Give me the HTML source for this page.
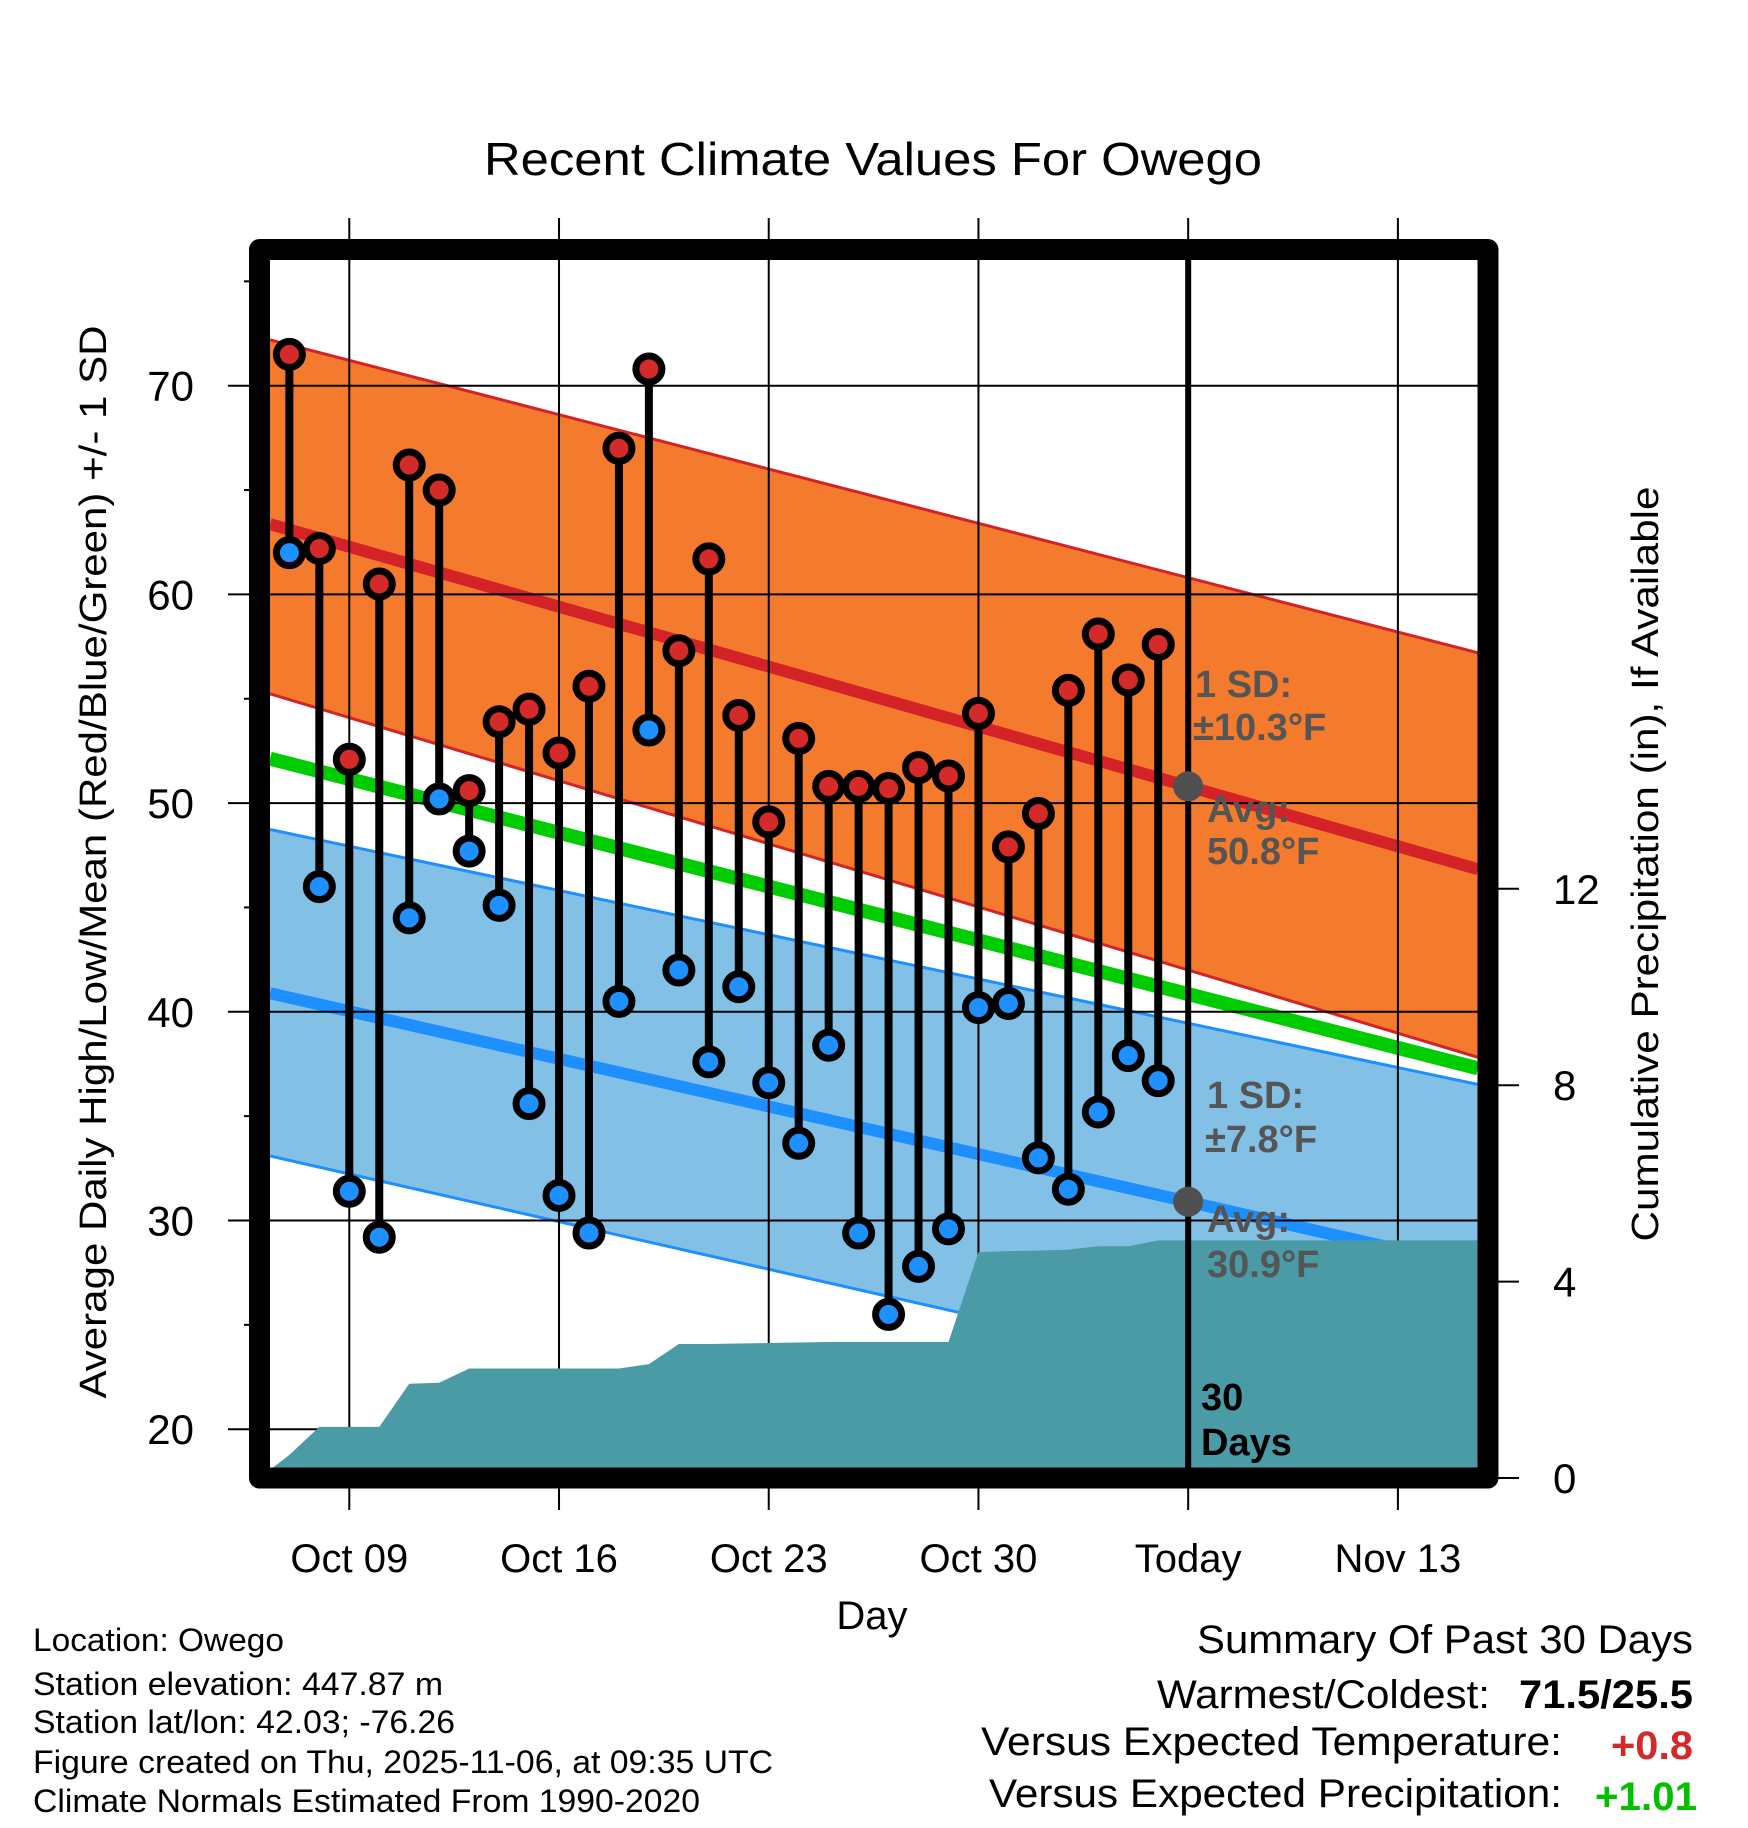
<!DOCTYPE html>
<html><head><meta charset="utf-8"><style>
html,body{margin:0;padding:0;background:#fff;}
svg{display:block;font-family:"Liberation Sans",Arial,sans-serif;}
</style></head><body>
<svg id="chart" width="1748" height="1828" viewBox="0 0 1748 1828" xmlns="http://www.w3.org/2000/svg">
<defs><clipPath id="plotclip"><rect x="270" y="260" width="1208" height="1208"/></clipPath></defs>
<g id="bands" clip-path="url(#plotclip)"></g>
<g id="grid"></g>
<g id="precip" clip-path="url(#plotclip)"></g>
<g id="marks"></g>
<g id="axes"></g>
<text x="873" y="175" font-size="46" text-anchor="middle" textLength="778" lengthAdjust="spacingAndGlyphs">Recent Climate Values For Owego</text>
<text transform="translate(106,862) rotate(-90)" font-size="38" text-anchor="middle" textLength="1073" lengthAdjust="spacingAndGlyphs">Average Daily High/Low/Mean (Red/Blue/Green) +/- 1 SD</text>
<text transform="translate(1658,864) rotate(-90)" font-size="38" text-anchor="middle" textLength="755" lengthAdjust="spacingAndGlyphs">Cumulative Precipitation (in), If Available</text>
<text x="872" y="1629" font-size="40" text-anchor="middle">Day</text>
<g font-size="32">
<text x="33" y="1651" textLength="251" lengthAdjust="spacingAndGlyphs">Location: Owego</text>
<text x="33" y="1695" textLength="410" lengthAdjust="spacingAndGlyphs">Station elevation: 447.87 m</text>
<text x="33" y="1733" textLength="422" lengthAdjust="spacingAndGlyphs">Station lat/lon: 42.03; -76.26</text>
<text x="33" y="1773" textLength="740" lengthAdjust="spacingAndGlyphs">Figure created on Thu, 2025-11-06, at 09:35 UTC</text>
<text x="33" y="1812" textLength="667" lengthAdjust="spacingAndGlyphs">Climate Normals Estimated From 1990-2020</text>
</g>
<g font-size="40">
<text x="1197" y="1653" textLength="496" lengthAdjust="spacingAndGlyphs">Summary Of Past 30 Days</text>
<text x="1157" y="1708" textLength="333" lengthAdjust="spacingAndGlyphs">Warmest/Coldest:</text>
<text x="1519" y="1708" font-weight="bold" textLength="174" lengthAdjust="spacingAndGlyphs">71.5/25.5</text>
<text x="981" y="1755" textLength="581" lengthAdjust="spacingAndGlyphs">Versus Expected Temperature:</text>
<text x="1611" y="1759" font-weight="bold" fill="#d22a2a" textLength="82" lengthAdjust="spacingAndGlyphs">+0.8</text>
<text x="989" y="1807" textLength="573" lengthAdjust="spacingAndGlyphs">Versus Expected Precipitation:</text>
<text x="1595" y="1810" font-weight="bold" fill="#00c000" textLength="102" lengthAdjust="spacingAndGlyphs">+1.01</text>
</g>
<g id="annot" font-size="38" font-weight="bold" fill="#555"></g>
</svg>
<script>
const dayLabels = ["Oct 09","Oct 16","Oct 23","Oct 30","Today","Nov 13"];
const dayTicks = [2, 9, 16, 23, 30, 37];
const highs = [71.5,62.2,52.1,60.5,66.2,65.0,50.6,53.9,54.5,52.4,55.6,67.0,70.8,57.3,61.7,54.2,49.1,53.1,50.8,50.8,50.7,51.7,51.3,54.3,47.9,49.5,55.4,58.1,55.9,57.6];
const lows = [62.0,46.0,31.4,29.2,44.5,50.2,47.7,45.1,35.6,31.2,29.4,40.5,53.5,42.0,37.6,41.2,36.6,33.7,38.4,29.4,25.5,27.8,29.6,40.2,40.4,33.0,31.5,35.2,37.9,36.7];
const precip = [0.47,1.04,1.04,1.04,1.92,1.94,2.23,2.23,2.23,2.23,2.23,2.23,2.32,2.73,2.73,2.74,2.75,2.76,2.77,2.77,2.77,2.77,2.77,4.6,4.62,4.63,4.65,4.72,4.72,4.84];
const tempTicks = [20,30,40,50,60,70];
const precipTicks = [0,4,8,12];
// normals at "today" and their daily slopes (decline per day)
const normalHighToday = 50.8, normalLowToday = 30.9;
const highUpperToday = 60.8, highLowerToday = 42.0;
const lowUpperToday = 39.45, lowLowerToday = 23.1;
const highSlope = 0.41, lowSlope = 0.326;
const highUpperSlope = 0.372, highLowerSlope = 0.432;
const lowUpperSlope = 0.303, lowLowerSlope = 0.326;
const todayIndex = 30;

const NS = "http://www.w3.org/2000/svg";
const X = d => 349.3 + (d - 2) * 29.96;
const Y = t => 385.7 + (70 - t) * 20.87;
const P = p => 1478 - p * 49.1;
function el(tag, attrs, parent){const e=document.createElementNS(NS,tag);for(const k in attrs)e.setAttribute(k,attrs[k]);parent.appendChild(e);return e;}
const dL = (270-349.3)/29.96+2, dR = (1478-349.3)/29.96+2;
const lin = (v,s) => d => v + (todayIndex-d)*s;
const nHigh = lin(normalHighToday, highSlope);
const nLow = lin(normalLowToday, lowSlope);
const nMean = d => (nHigh(d)+nLow(d))/2;
const bands = document.getElementById('bands');
function band(f1,f2,fill,stroke,name){
  const pts=[[X(dL),Y(f1(dL))],[X(dR),Y(f1(dR))],[X(dR),Y(f2(dR))],[X(dL),Y(f2(dL))]];
  const e=el('polygon',{points:pts.map(p=>p.join(',')).join(' '),fill:fill},bands);
  
  
  [f1,f2].forEach(f=>{const l=el('line',{x1:X(dL),y1:Y(f(dL)),x2:X(dR),y2:Y(f(dR)),stroke:stroke,'stroke-width':3},bands);
    
    });
}
band(lin(highUpperToday,highUpperSlope),lin(highLowerToday,highLowerSlope),'#f47a2e','#d42328','high-sd-band');
band(lin(lowUpperToday,lowUpperSlope),lin(lowLowerToday,lowLowerSlope),'#82c0e6','#1e8fff','low-sd-band');
function nline(f,color,w,name){const l=el('line',{x1:X(dL),y1:Y(f(dL)),x2:X(dR),y2:Y(f(dR)),stroke:color,'stroke-width':w},bands);
  
  }
nline(nMean,'#00cc00',14,'normal-mean-line');
nline(nHigh,'#d42328',12,'normal-high-line');
nline(nLow,'#1e8fff',12,'normal-low-line');

const grid = document.getElementById('grid');
dayTicks.forEach((d,i)=>{const l=el('line',{x1:X(d),y1:218,x2:X(d),y2:1510,stroke:'#000','stroke-width':2},grid);
  
  });
tempTicks.forEach(t=>{const l=el('line',{x1:228,y1:Y(t),x2:1478,y2:Y(t),stroke:'#000','stroke-width':2},grid);
  
  });
[25,35,45,55,65,75].forEach(t=>{const l=el('line',{x1:244,y1:Y(t),x2:252,y2:Y(t),stroke:'#000','stroke-width':2},grid);
  
  });

const pg = document.getElementById('precip');
let pts=[[X(-1),P(0)]];
precip.forEach((v,i)=>pts.push([X(i),P(v)]));
pts.push([X(dR),P(precip[precip.length-1])],[X(dR),1500],[X(-1),1500]);
const area=el('polygon',{points:pts.map(p=>p.join(',')).join(' '),fill:'#4a9ba6'},pg);



const marks=document.getElementById('marks');
highs.forEach((h,i)=>{
  const lo=lows[i], x=X(i);
  const s=el('line',{x1:x,y1:Y(h),x2:x,y2:Y(lo),stroke:'#000','stroke-width':8},marks);
  
  
});
highs.forEach((h,i)=>{
  const x=X(i);
  [[h,'#d42a2a','high-point'],[lows[i],'#1e90ff','low-point']].forEach(([v,c,n])=>{
    const o=el('circle',{cx:x,cy:Y(v),r:13,fill:c,stroke:'#000','stroke-width':7},marks);
    
    
  });
});
const tl=el('line',{x1:X(todayIndex),y1:255,x2:X(todayIndex),y2:1470,stroke:'#000','stroke-width':6},marks);


[nHigh(todayIndex),nLow(todayIndex)].forEach(v=>{const c=el('circle',{cx:X(todayIndex),cy:Y(v),r:15,fill:'#505050'},marks);
  
  });

const axes=document.getElementById('axes');
const fr=el('rect',{x:259.5,y:249.5,width:1228.5,height:1228.5,fill:'none',stroke:'#000','stroke-width':21,'stroke-linejoin':'round'},axes);


tempTicks.forEach(t=>{const tx=el('text',{x:194,y:Y(t)+15,'font-size':42,'text-anchor':'end'},axes);tx.textContent=t;
  
  });
dayTicks.forEach((d,i)=>{const tx=el('text',{x:X(d),y:1572,'font-size':40,'text-anchor':'middle'},axes);tx.textContent=dayLabels[i];
  
  });
precipTicks.forEach(p=>{const l=el('line',{x1:1498,y1:P(p),x2:1519,y2:P(p),stroke:'#000','stroke-width':2},axes);
  
  
  const tx=el('text',{x:1553,y:P(p)+15,'font-size':42},axes);tx.textContent=p;
  
  });

const an=document.getElementById('annot');
[["1 SD:",1195,697],["\u00b110.3\u00b0F",1193,740],["Avg:",1207,822],["50.8\u00b0F",1207,864],["1 SD:",1207,1108],["\u00b17.8\u00b0F",1205,1152],["Avg:",1207,1232],["30.9\u00b0F",1207,1277]].forEach(([t,x,y])=>{
  const tx=el('text',{x:x,y:y},an);tx.textContent=t;
  
  });
[["30",1201,1410],["Days",1201,1455]].forEach(([t,x,y])=>{const tx=el('text',{x:x,y:y,fill:'#000'},an);tx.textContent=t;
  
  });
</script>
</body></html>
